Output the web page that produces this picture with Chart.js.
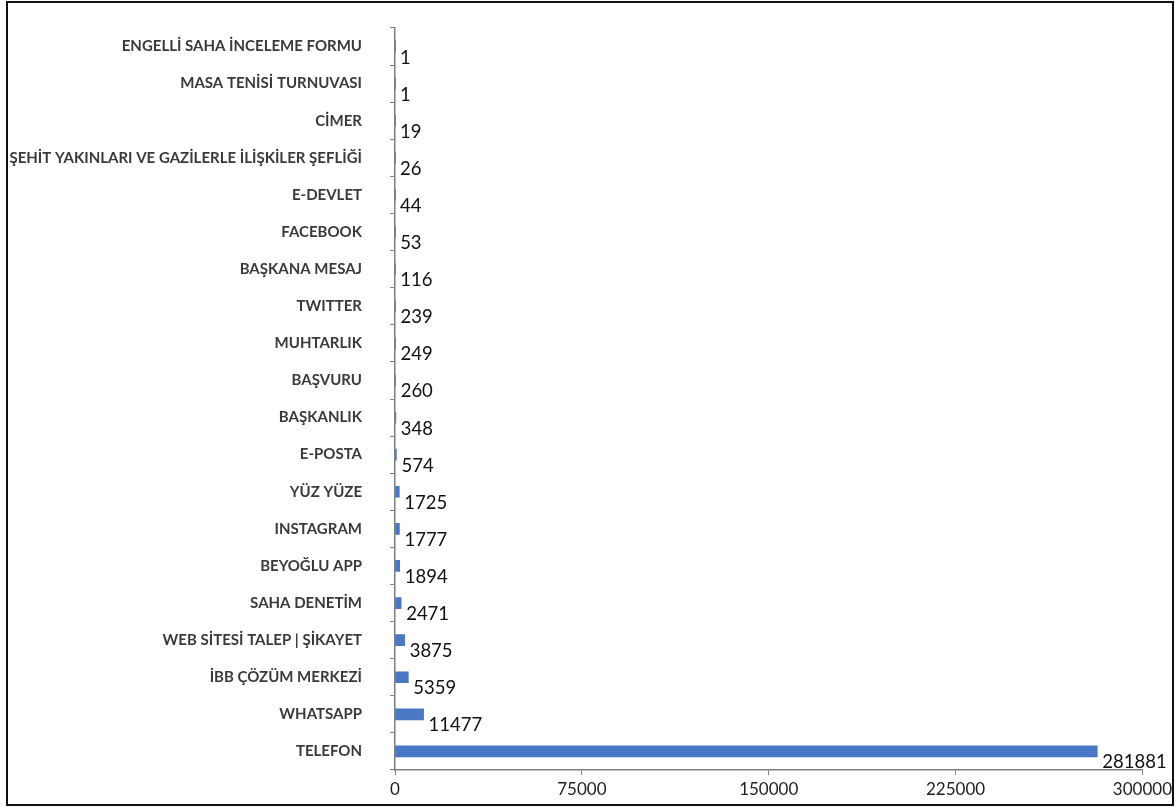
<!DOCTYPE html>
<html>
<head>
<meta charset="utf-8">
<script src="https://cdn.jsdelivr.net/npm/chart.js@4/dist/chart.umd.min.js"></script>
<style>
  html, body { margin: 0; padding: 0; background: #fff; }
  #wrap { position: relative; width: 1176px; height: 807px; }
  #frame { position: absolute; left: 6px; top: 1px; width: 1164px; height: 801px; border: 2px solid #111; pointer-events: none; }
</style>
</head>
<body>
<div id="wrap">
  <canvas id="chart" width="1176" height="807"></canvas>
  <div id="frame"></div>
</div>
<script>
// channels, top to bottom as in the picture
const CHANNELS = [
    'ENGELLİ SAHA İNCELEME FORMU', 'MASA TENİSİ TURNUVASI', 'CİMER',
    'ŞEHİT YAKINLARI VE GAZİLERLE İLİŞKİLER ŞEFLİĞİ', 'E-DEVLET', 'FACEBOOK',
    'BAŞKANA MESAJ', 'TWITTER', 'MUHTARLIK', 'BAŞVURU', 'BAŞKANLIK', 'E-POSTA',
    'YÜZ YÜZE', 'INSTAGRAM', 'BEYOĞLU APP', 'SAHA DENETİM',
    'WEB SİTESİ TALEP | ŞİKAYET', 'İBB ÇÖZÜM MERKEZİ', 'WHATSAPP', 'TELEFON'
];
const COUNTS = [1, 1, 19, 26, 44, 53, 116, 239, 249, 260, 348, 574, 1725, 1777, 1894, 2471, 3875, 5359, 11477, 281881];
const X_TICKS = [0, 75000, 150000, 225000, 300000];

const AXIS_LEFT = 395;
const AXIS_BOTTOM = 770;

// writes the count just past the end of each bar
const valueLabels = {
    id: 'valueLabels',
    afterDatasetsDraw(chart) {
        const ctx = chart.ctx;
        const meta = chart.getDatasetMeta(0);
        ctx.save();
        ctx.font = '18.5px Lato, sans-serif';
        ctx.fillStyle = '#111';
        ctx.textAlign = 'left';
        ctx.textBaseline = 'middle';
        meta.data.forEach((bar, i) => {
            ctx.fillText(String(COUNTS[i]), bar.x + 5, bar.y + 11);
        });
        ctx.restore();
    }
};

new Chart(document.getElementById('chart'), {
    type: 'bar',
    data: {
        labels: CHANNELS,
        datasets: [{ data: COUNTS, backgroundColor: '#4a78c4', barThickness: 11 }]
    },
    options: {
        indexAxis: 'y',
        responsive: false,
        animation: false,
        layout: { padding: { top: 28, right: 31, left: 0, bottom: 0 } },
        plugins: { legend: { display: false }, tooltip: { enabled: false } },
        scales: {
            x: {
                min: 0, max: 300000,
                afterBuildTicks: s => { s.ticks = X_TICKS.map(v => ({ value: v })); },
                afterFit: s => { s.height = 807 - AXIS_BOTTOM; },
                border: { color: '#7f7f7f', width: 1.5 },
                grid: { drawOnChartArea: false, tickLength: 5, color: '#7f7f7f' },
                ticks: {
                    color: '#222', font: { family: 'Lato, sans-serif', size: 17 }, padding: 4, maxRotation: 0,
                    callback: v => String(v)
                }
            },
            y: {
                // tick padding would otherwise push the plot down from the top
                afterFit: s => { s.width = AXIS_LEFT; s.paddingTop = 0; s.paddingBottom = 0; },
                border: { color: '#7f7f7f', width: 1.5 },
                grid: { drawOnChartArea: false, tickLength: 5, color: '#7f7f7f' },
                ticks: {
                    color: '#3a3a3a',
                    font: { family: 'Lato, sans-serif', size: 15, weight: 'bold' },
                    padding: 28,
                    autoSkip: false
                }
            }
        }
    },
    plugins: [valueLabels]
});
</script>
</body>
</html>
